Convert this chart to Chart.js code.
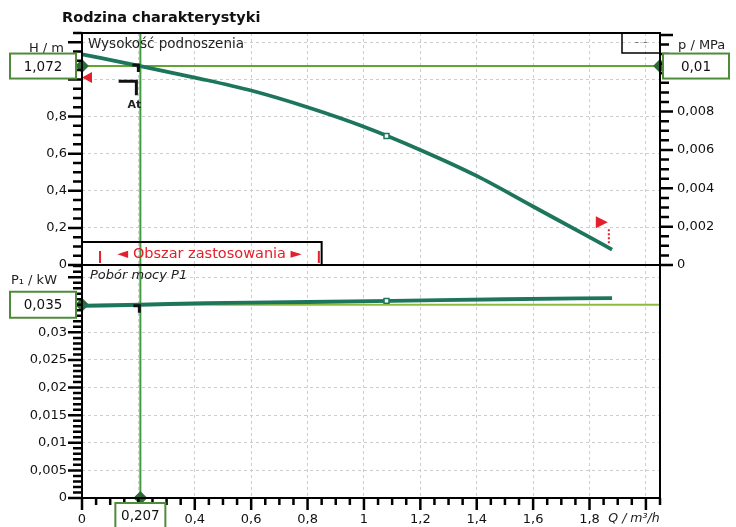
<!DOCTYPE html>
<html><head><meta charset="utf-8">
<script src="https://cdn.jsdelivr.net/npm/chart.js@4.4.1/dist/chart.umd.min.js"></script>
<style>
html,body{margin:0;padding:0;background:#fff;overflow:hidden}
#wrap{position:relative;width:736px;height:527px;background:#fff}
#wrap canvas{position:absolute;left:0;top:0}
</style></head><body>
<div id="wrap"><canvas id="cTop" width="736" height="527"></canvas><canvas id="cBot" width="736" height="527"></canvas></div>
<script>
// ---------- data ----------
const flowQ  = [0, 0.207, 0.4, 0.6, 0.8, 1.0, 1.2, 1.4, 1.6, 1.8, 1.88];
const headH  = [1.135, 1.072, 1.01, 0.94, 0.85, 0.745, 0.62, 0.48, 0.315, 0.15, 0.083];
const powerQ = [0, 0.207, 0.44, 0.8, 1.1, 1.5, 1.88];
const powerP = [0.0348, 0.035, 0.0353, 0.0355, 0.0357, 0.036, 0.0362];
const dutyQ   = [0.207];
const dutyH   = [1.072];
const dutyP   = [0.035];
const dutyMPa = [0.01];
const markQ = [1.08];
const markH = [0.695];
const markP = [0.0357];
const rangeQ = [0.064, 0.84];
const xTickLabels   = [0, 0.4, 0.6, 0.8, 1, 1.2, 1.4, 1.6, 1.8];
const hTickLabels   = [0, 0.2, 0.4, 0.6, 0.8];
const mpaTickLabels = [0, 0.002, 0.004, 0.006, 0.008];
const pTickLabels   = [0, 0.005, 0.01, 0.015, 0.02, 0.025, 0.03];

// ---------- axis ranges ----------
const X_MAX = 2.05, H_MAX = 1.25, MPA_MAX = 0.0121, P_MAX = 0.0422;

const FONT = '"DejaVu Sans", Verdana, sans-serif';
const fmt = v => String(Math.round(v * 100000) / 100000).replace('.', ',');
const inList = (list, v) => list.some(t => Math.abs(t - v) < 1e-7);
const isMult = (v, s) => Math.abs(v / s - Math.round(v / s)) < 1e-6;

function gridColor(step, max) {
  return c => (c.tick && isMult(c.tick.value, step) && c.tick.value > 1e-9 && c.tick.value < max - 1e-6) ? '#cdcdcd' : 'rgba(0,0,0,0)';
}
function drawTicks(ctx, scale, step, major, side, a, lMaj, lMin) {
  const n0 = Math.ceil(scale.min / step - 1e-6), n1 = Math.floor(scale.max / step + 1e-6);
  ctx.strokeStyle = '#000'; ctx.lineWidth = 2.5; ctx.beginPath();
  for (let i = n0; i <= n1; i++) {
    const v = i * step;
    const L = isMult(v, major) ? lMaj : lMin;
    const p = scale.getPixelForValue(v);
    if (side === 'left') { ctx.moveTo(a.left - L, p); ctx.lineTo(a.left, p); }
    else if (side === 'right') { ctx.moveTo(a.right, p); ctx.lineTo(a.right + L, p); }
    else { ctx.moveTo(p, a.bottom); ctx.lineTo(p, a.bottom + L); }
  }
  ctx.stroke();
}
function valueBox(ctx, x0, y0, w, h, text) {
  ctx.fillStyle = '#fff'; ctx.fillRect(x0, y0, w, h);
  ctx.strokeStyle = '#4f8c3a'; ctx.lineWidth = 2; ctx.strokeRect(x0, y0, w, h);
  ctx.fillStyle = '#111'; ctx.font = '13.5px ' + FONT; ctx.textAlign = 'center'; ctx.textBaseline = 'middle';
  ctx.fillText(text, x0 + w / 2, y0 + h / 2 + 1);
}
function txt(ctx, s, x, y, align, font, color) {
  ctx.font = font; ctx.fillStyle = color || '#111'; ctx.textAlign = align; ctx.textBaseline = 'middle';
  ctx.fillText(s, x, y);
}

const common = {
  responsive: false, animation: false, devicePixelRatio: 1, events: [],
  plugins: { legend: { display: false }, tooltip: { enabled: false }, title: { display: false } }
};
const tickFont = { family: FONT, size: 13 };

// ---------- top panel ----------
const topDecor = {
  id: 'topDecor',
  afterDraw(chart) {
    const { ctx, chartArea: a } = chart; const x = chart.scales.x, y = chart.scales.y;
    ctx.save();
    // application range box
    const bx1 = x.getPixelForValue(0.85);
    ctx.strokeStyle = '#000'; ctx.lineWidth = 2; ctx.strokeRect(a.left, a.bottom - 23, bx1 - a.left, 23);
    ctx.strokeStyle = '#e3202b'; ctx.lineWidth = 2; ctx.beginPath();
    rangeQ.forEach(q => { const px = x.getPixelForValue(q); ctx.moveTo(px, a.bottom - 14); ctx.lineTo(px, a.bottom - 2); });
    ctx.stroke();
    txt(ctx, '\u25C4 Obszar zastosowania \u25BA', (x.getPixelForValue(rangeQ[0]) + x.getPixelForValue(rangeQ[1])) / 2, a.bottom - 11, 'center', '14.5px ' + FONT, '#e3202b');
    // red limit markers on the curve
    ctx.fillStyle = '#e3202b';
    let ty = y.getPixelForValue(1.01);
    ctx.beginPath(); ctx.moveTo(a.left, ty); ctx.lineTo(a.left + 10, ty - 5.5); ctx.lineTo(a.left + 10, ty + 5.5); ctx.closePath(); ctx.fill();
    const fx = x.getPixelForValue(1.865); ty = y.getPixelForValue(0.23);
    ctx.beginPath(); ctx.moveTo(fx, ty); ctx.lineTo(fx - 12, ty - 6); ctx.lineTo(fx - 12, ty + 6); ctx.closePath(); ctx.fill();
    ctx.strokeStyle = '#e3202b'; ctx.lineWidth = 2; ctx.setLineDash([2, 2]);
    ctx.beginPath(); ctx.moveTo(fx + 1, ty + 7); ctx.lineTo(fx + 1, a.bottom - 20); ctx.stroke(); ctx.setLineDash([]);
    // black tolerance marks
    const qx = x.getPixelForValue(dutyQ[0]), hy = y.getPixelForValue(dutyH[0]);
    ctx.strokeStyle = '#111'; ctx.lineWidth = 3;
    ctx.beginPath(); ctx.moveTo(qx - 8, hy - 1); ctx.lineTo(qx - 2, hy - 1); ctx.lineTo(qx - 2, hy + 6); ctx.stroke();
    const ay = y.getPixelForValue(0.99);
    ctx.beginPath(); ctx.moveTo(x.getPixelForValue(0.13), ay); ctx.lineTo(qx - 4, ay); ctx.lineTo(qx - 4, ay + 14); ctx.stroke();
    txt(ctx, 'At', qx - 6, ay + 24, 'center', 'bold 11px ' + FONT, '#222');
    // frame and ticks
    ctx.strokeStyle = '#000'; ctx.lineWidth = 2; ctx.strokeRect(a.left, a.top, a.right - a.left, a.bottom - a.top);
    drawTicks(ctx, y, 0.05, 0.2, 'left', a, 14, 9);
    drawTicks(ctx, chart.scales.y1, 0.0005, 0.002, 'right', a, 13, 9);
    // legend box
    ctx.strokeStyle = '#000'; ctx.lineWidth = 1.5; ctx.strokeRect(a.right - 38, a.top, 38, 20);
    txt(ctx, '- -', a.right - 19, a.top + 10, 'center', '12px ' + FONT, '#777');
    // texts
    txt(ctx, 'Rodzina charakterystyki', 62, 18, 'left', 'bold 14.5px ' + FONT, '#111');
    txt(ctx, 'Wysokość podnoszenia', a.left + 6, a.top + 11, 'left', '13.5px ' + FONT, '#222');
    txt(ctx, 'H / m', 64, 49, 'right', '13px ' + FONT, '#222');
    txt(ctx, 'p / MPa', 678, 46, 'left', '13px ' + FONT, '#222');
    // value boxes
    valueBox(ctx, 10, hy - 12.5, 66, 25, fmt(dutyH[0]));
    valueBox(ctx, 663, hy - 12.5, 66, 25, fmt(dutyMPa[0]));
    ctx.restore();
  }
};

new Chart(document.getElementById('cTop'), {
  type: 'line',
  data: { datasets: [
    { data: markQ.map((q, i) => ({ x: q, y: markH[i] })), showLine: false, pointStyle: 'rect', pointRadius: 3.5,
      pointBackgroundColor: '#fff', pointBorderColor: '#1d765c', pointBorderWidth: 1.5, yAxisID: 'y' },
    { data: flowQ.map((q, i) => ({ x: q, y: headH[i] })), borderColor: '#1d765c', borderWidth: 3.8, pointRadius: 0,
      cubicInterpolationMode: 'monotone', yAxisID: 'y' },
    { data: [{ x: 0, y: dutyH[0] }, { x: X_MAX, y: dutyH[0] }], borderColor: '#62a434', borderWidth: 2,
      pointStyle: 'rectRot', pointRadius: 5.5, pointBackgroundColor: '#2e6b36', pointBorderColor: '#2e6b36', clip: false, yAxisID: 'y' },
    { data: [{ x: dutyQ[0], y: 0 }, { x: dutyQ[0], y: H_MAX }], borderColor: '#3f9d3f', borderWidth: 2, pointRadius: 0, yAxisID: 'y' }
  ] },
  options: Object.assign({}, common, {
    layout: { padding: { top: 33, bottom: 262, left: 0, right: 0 } },
    scales: {
      x: { type: 'linear', min: 0, max: X_MAX, position: 'bottom',
        ticks: { display: false, stepSize: 0.05, autoSkip: false },
        grid: { color: gridColor(0.2, X_MAX), drawTicks: false, borderDash: [3, 3] },
        border: { display: false, dash: [3, 3] },
        afterFit: s => { s.height = 0; } },
      y: { type: 'linear', position: 'left', min: 0, max: H_MAX,
        ticks: { stepSize: 0.05, autoSkip: false, padding: 15, font: tickFont, color: '#111',
          callback: v => inList(hTickLabels, v) ? fmt(v) : '' },
        grid: { color: gridColor(0.2, H_MAX), drawTicks: false, borderDash: [3, 3] },
        border: { display: false, dash: [3, 3] },
        afterFit: s => { s.width = 82; } },
      y1: { type: 'linear', position: 'right', min: 0, max: MPA_MAX,
        ticks: { stepSize: 0.0005, autoSkip: false, padding: 17, font: tickFont, color: '#111',
          callback: v => inList(mpaTickLabels, v) ? fmt(v) : '' },
        grid: { drawOnChartArea: false, drawTicks: false },
        border: { display: false },
        afterFit: s => { s.width = 76; } }
    }
  }),
  plugins: [topDecor]
});

// ---------- bottom panel ----------
const botDecor = {
  id: 'botDecor',
  afterDraw(chart) {
    const { ctx, chartArea: a } = chart; const x = chart.scales.x, y = chart.scales.y;
    ctx.save();
    const qx = x.getPixelForValue(dutyQ[0]), py = y.getPixelForValue(dutyP[0]);
    ctx.strokeStyle = '#111'; ctx.lineWidth = 3;
    ctx.beginPath(); ctx.moveTo(qx - 7, py + 1); ctx.lineTo(qx - 1, py + 1); ctx.lineTo(qx - 1, py + 8); ctx.stroke();
    ctx.strokeStyle = '#000'; ctx.lineWidth = 2; ctx.strokeRect(a.left, a.top, a.right - a.left, a.bottom - a.top);
    drawTicks(ctx, y, 0.001, 0.005, 'left', a, 14, 9);
    drawTicks(ctx, x, 0.05, 0.2, 'bottom', a, 12, 7);
    txt(ctx, 'Pobór mocy P1', a.left + 8, a.top + 11, 'left', 'italic 13px ' + FONT, '#222');
    txt(ctx, 'P\u2081 / kW', 57, y.getPixelForValue(0.04) + 3, 'right', '13px ' + FONT, '#222');
    txt(ctx, 'Q / m\u00B3/h', 634, 519, 'center', 'italic 12.5px ' + FONT, '#222');
    valueBox(ctx, 10, py - 13, 66, 26, fmt(dutyP[0]));
    valueBox(ctx, qx - 25, a.bottom + 5, 50, 25, fmt(dutyQ[0]));
    ctx.restore();
  }
};

new Chart(document.getElementById('cBot'), {
  type: 'line',
  data: { datasets: [
    { data: markQ.map((q, i) => ({ x: q, y: markP[i] })), showLine: false, pointStyle: 'rect', pointRadius: 3.5,
      pointBackgroundColor: '#fff', pointBorderColor: '#1d765c', pointBorderWidth: 1.5 },
    { data: powerQ.map((q, i) => ({ x: q, y: powerP[i] })), borderColor: '#1d765c', borderWidth: 3.8, pointRadius: 0,
      cubicInterpolationMode: 'monotone' },
    { data: [{ x: 0, y: dutyP[0] }, { x: X_MAX, y: dutyP[0] }], borderColor: '#8fbb3a', borderWidth: 2,
      pointStyle: 'rectRot', pointRadius: [5.5, 0], pointBackgroundColor: '#2e6b36', pointBorderColor: '#2e6b36', clip: false },
    { data: [{ x: dutyQ[0], y: 0 }, { x: dutyQ[0], y: P_MAX }], borderColor: '#3f9d3f', borderWidth: 2,
      pointStyle: 'rectRot', pointRadius: [5.5, 0], pointBackgroundColor: '#2e6b36', pointBorderColor: '#2e6b36', clip: false }
  ] },
  options: Object.assign({}, common, {
    layout: { padding: { top: 265, bottom: 0, left: 0, right: 76 } },
    scales: {
      x: { type: 'linear', min: 0, max: X_MAX, position: 'bottom',
        ticks: { stepSize: 0.05, autoSkip: false, maxRotation: 0, padding: 14, font: tickFont, color: '#111',
          callback: v => inList(xTickLabels, v) ? fmt(v) : '' },
        grid: { color: gridColor(0.2, X_MAX), drawTicks: false, borderDash: [3, 3] },
        border: { display: false, dash: [3, 3] },
        afterFit: s => { s.height = 29; } },
      y: { type: 'linear', position: 'left', min: 0, max: P_MAX,
        ticks: { stepSize: 0.001, autoSkip: false, padding: 15, font: tickFont, color: '#111',
          callback: v => inList(pTickLabels, v) ? fmt(v) : '' },
        grid: { color: gridColor(0.005, P_MAX), drawTicks: false, borderDash: [3, 3] },
        border: { display: false, dash: [3, 3] },
        afterFit: s => { s.width = 82; } }
    }
  }),
  plugins: [botDecor]
});
</script>
</body></html>
